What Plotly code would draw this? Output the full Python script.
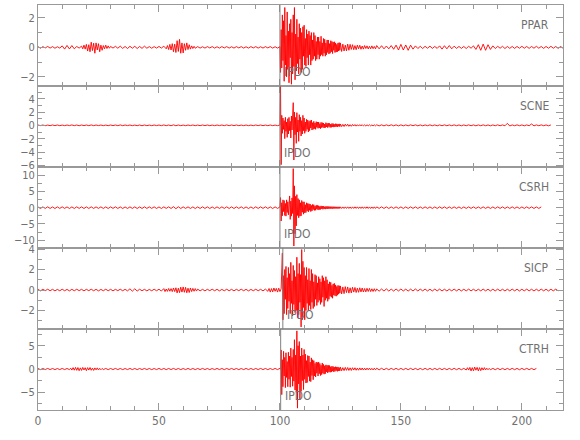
import plotly.graph_objects as go
from plotly.subplots import make_subplots

# ---------------- data ----------------
stations = ["PPAR", "SCNE", "CSRH", "SICP", "CTRH"]
pick_label = "IPDO"
pick_times = [100.0, 100.0, 100.0, 101.2, 100.3]

# y-axis ranges and ticks of each panel
y_ranges = [[-2.62, 2.87], [-6.25, 5.9], [-12.4, 12.5], [-3.8, 4.1], [-8.8, 8.6]]
y_dticks = [2, 2, 5, 2, 5]
y_minor = [1, 1, 2.5, 1, 2.5]
x_range = [0, 217]
x_dtick = 50
x_minor = 10

# Each trace is stored as segments: start time (s), sample step (s), amplitudes.

# ---- PPAR ----
ppar_t0 = [0, 18, 30, 53, 65, 100, 125, 140]
ppar_dt = [1, 0.5, 1, 0.5, 1, 0.25, 0.5, 1]
ppar_vals = [
    [.05, -.06, .05, -.04, .06, -.05, .05, -.06, .04, -.05, .10, -.12, .13, -.11, .12, -.10, .06, -.05],
    [.08, -.1, .15, -.12, .2, -.25, .18, -.3, .35, -.22, .28, -.4, .3, -.18, .25, -.3, .15, -.2,
     .12, -.1, .15, -.08, .1, -.06],
    [.06, -.05, .07, -.06, .08, -.07, .06, -.08, .07, -.06, .07, -.08, .06, -.07, .08, -.06, .05,
     -.06, .05, -.05, .06, -.05, .08],
    [-.1, .12, -.15, .2, -.18, .25, -.3, .22, -.35, .45, -.28, .54, -.4, .3, -.38, .25, -.2, .3,
     -.15, .18, -.12, .1, -.08, .07],
    [-.06, .05, -.05, .04, -.05, .05, -.04, .05, -.05, .04, -.05, .05, -.04, .05, -.05, .04, -.05,
     .05, -.04, .05, -.05, .04, -.05, .05, -.04, .05, -.05, .04, -.05, .05, -.04, .05, -.05, .04, -.05],
    [0.05, -1.7, 1.2, -1.4, 2.2, -0.9, 1.8, -2.3,
     2.7, -1.2, 0.8, -2.0, 2.4, -1.5, 1.1, -2.4,
     1.6, -0.7, 1.9, -2.5, 1.0, -1.8, 2.2, -1.3,
     2.7, -2.2, 0.9, -1.6, 1.9, -1.1, 0.7, -1.8,
     1.6, -0.8, 1.3, -1.7, 1.0, -1.5, 1.4, -0.6,
     1.5, -1.2, 0.6, -1.3, 1.2, -0.7, 0.9, -1.2,
     1.1, -0.5, 0.8, -1.2, 1.0, -0.9, 0.5, -0.8,
     1.0, -0.6, 0.8, -0.9, 0.4, -0.8, 0.7, -0.5,
     0.7, -0.8, 0.4, -0.6, 0.75, -0.5, 0.3, -0.6,
     0.6, -0.4, 0.55, -0.6, 0.3, -0.5, 0.5, -0.35,
     0.5, -0.45, 0.25, -0.4, 0.45, -0.3, 0.4, -0.42,
     0.35, -0.2, 0.38, -0.35, 0.3, -0.32, 0.2, -0.3,
     0.3, -0.25, 0.32, -0.2],
    [0.3, -0.28, 0.22, -0.25, 0.15, -0.24, 0.22, -0.2, 0.2, -0.14,
     0.18, -0.16, 0.12, -0.16, 0.15, -0.1, 0.14, -0.13, 0.09, -0.12,
     0.12, -0.08, 0.1, -0.11, 0.07, -0.1, 0.1, -0.09, 0.06, -0.1],
    [.12, -.10, .11, -.10, .09, -.10, .12, -.13, .15, -.18,
     .20, -.18, .16, -.20, .15, -.12, .10, -.08, .07, -.08,
     .07, -.06, .08, -.07, .06, -.07, .10, -.12, .11, -.10,
     .12, -.10, .08, -.07, .06, -.07, .06, -.08, .07, -.06,
     .10, -.14, .18, -.20, .22, -.20, .18, -.14, .10, -.08,
     .07, -.06, .07, -.08, .06, -.07, .06, -.07, .06, -.06,
     .07, -.06, .06, -.07, .06, -.06, .07, -.06, .06, -.07,
     .06, -.06, .07, -.06, .06, -.07, .06, -.06],
]

# ---- SCNE ----
scne_t0 = [0, 100, 125, 140]
scne_dt = [1, 0.25, 0.5, 1]
scne_vals = [
    [.05, -.04, .05, -.05, .04, -.05, .05, -.04, .05, -.05,
     .04, -.05, .05, -.04, .06, -.05, .05, -.06, .05, -.04,
     .05, -.05, .06, -.05, .05, -.04, .05, -.05, .04, -.05,
     .05, -.04, .05, -.05, .06, -.05, .05, -.04, .05, -.05,
     .04, -.05, .05, -.06, .05, -.05, .04, -.05, .05, -.04,
     .05, -.05, .06, -.05, .05, -.06, .07, -.06, .05, -.05,
     .04, -.05, .05, -.04, .05, -.05, .04, -.05, .05, -.04,
     .05, -.05, .04, -.05, .05, -.04, .05, -.05, .06, -.05,
     .05, -.04, .05, -.05, .04, -.05, .05, -.05, .04, -.05,
     .05, -.04, .05, -.05, .04, -.05, .05, -.05, .04, -.05],
    [0.05, 5.8, -5.9, 1.5, -1.2, 1.1, -0.6, 0.7,
     -2.0, 1.2, -0.9, 0.5, -1.8, 1.0, -1.3, 1.2,
     -0.8, 0.6, -1.9, 1.4, -0.7, 1.0, 3.4, -5.2,
     2.0, -1.4, 1.2, -2.7, 1.9, -1.0, 0.8, -2.4,
     1.6, -0.9, 1.2, -1.6, 0.7, -1.3, 1.5, -0.8,
     1.1, -1.2, 0.5, -0.9, 0.9, -0.6, 0.8, -1.0,
     0.6, -0.8, 0.7, -0.4, 0.8, -0.7, 0.4, -0.6,
     0.6, -0.5, 0.35, -0.6, 0.55, -0.3, 0.5, -0.45,
     0.5, -0.4, 0.25, -0.5, 0.45, -0.35, 0.4, -0.3,
     0.35, -0.4, 0.2, -0.35, 0.4, -0.25, 0.3, -0.35,
     0.33, -0.2, 0.3, -0.32, 0.18, -0.3, 0.28, -0.22,
     0.26, -0.27, 0.15, -0.25, 0.24, -0.2, 0.22, -0.24,
     0.2, -0.15, 0.22, -0.2],
    [0.2, -0.19, 0.14, -0.18, 0.17, -0.12, 0.16, -0.15, 0.1, -0.14,
     0.13, -0.1, 0.12, -0.12, 0.09, -0.11, 0.1, -0.08, 0.1, -0.09,
     0.07, -0.09, 0.08, -0.07, 0.08, -0.08, 0.06, -0.08, 0.07, -0.07],
    [.08, -.08, .07, -.08, .07, -.07, .08, -.07, .07, -.08,
     .07, -.07, .06, -.07, .07, -.06, .07, -.07, .06, -.07,
     .06, -.06, .07, -.06, .06, -.07, .06, -.06, .07, -.06,
     .06, -.06, .07, -.06, .06, -.07, .06, -.06, .07, -.06,
     .06, -.07, .06, -.06, .07, -.06, .06, -.07, .06, -.06,
     .07, -.06, .06, -.07, .30, -.10, .06, -.06, .07, -.06,
     .06, -.07, .06, -.06, .20, -.08, .06, -.06, .07, -.06,
     .06, -.07, .06],
]

# ---- CSRH ----
csrh_t0 = [0, 100, 125, 140]
csrh_dt = [1, 0.25, 0.5, 1]
csrh_vals = [
    [.22, -.25, .24, -.22, .25, -.24, .22, -.25, .24, -.23,
     .25, -.22, .24, -.25, .23, -.24, .25, -.22, .24, -.25,
     .23, -.24, .25, -.23, .24, -.22, .25, -.24, .23, -.25,
     .24, -.22, .25, -.24, .23, -.25, .22, -.24, .25, -.23,
     .24, -.25, .22, -.24, .25, -.23, .24, -.22, .25, -.24,
     .23, -.25, .24, -.22, .25, -.24, .3, -.32, .28, -.25,
     .24, -.22, .25, -.24, .23, -.25, .22, -.24, .25, -.23,
     .24, -.25, .22, -.24, .25, -.23, .24, -.22, .25, -.24,
     .23, -.25, .24, -.22, .25, -.24, .23, -.25, .22, -.24,
     .25, -.23, .24, -.22, .25, -.24, .23, -.25, .24, -.22],
    [0.2, 3.1, -4.1, 1.5, -2.5, 2.4, -1.2, 2.2,
     -2.4, 1.3, -2.6, 2.4, -1.5, 1.8, -2.2, 1.0,
     3.6, -3.6, 2.0, -2.6, 3.0, -1.8, 12.0, -11.8,
     6.7, -8.0, 3.5, -5.6, 4.0, -2.4, 2.8, -3.1,
     2.4, -2.6, 1.5, -2.5, 2.2, -1.4, 1.8, -2.0,
     1.8, -1.6, 0.9, -1.5, 1.5, -1.0, 1.3, -1.3,
     1.2, -0.8, 1.1, -1.2, 0.7, -1.0, 1.0, -0.6,
     0.9, -0.85, 0.5, -0.8, 0.75, -0.45, 0.7, -0.7,
     0.6, -0.6, 0.4, -0.55, 0.55, -0.35, 0.5, -0.5,
     0.45, -0.4, 0.3, -0.45, 0.4, -0.3, 0.4, -0.38,
     0.36, -0.35, 0.3, -0.33, 0.32, -0.28, 0.3, -0.3,
     0.3, -0.28, 0.27, -0.28, 0.26, -0.26, 0.25, -0.25,
     0.25, -0.24, 0.25, -0.24],
    [0.25, -0.24, 0.23, -0.25, 0.24, -0.23, 0.25, -0.24, 0.22, -0.25,
     0.24, -0.23, 0.25, -0.22, 0.24, -0.25, 0.23, -0.24, 0.25, -0.23,
     0.24, -0.22, 0.25, -0.24, 0.23, -0.25, 0.22, -0.24, 0.25, -0.23],
    [.23, -.22, .24, -.23, .22, -.24, .23, -.22, .24, -.22,
     .23, -.24, .22, -.23, .24, -.22, .23, -.24, .22, -.23,
     .24, -.22, .23, -.24, .22, -.23, .24, -.22, .23, -.24,
     .22, -.23, .24, -.22, .23, -.24, .22, -.23, .24, -.22,
     .23, -.24, .22, -.23, .24, -.22, .23, -.24, .22, -.23,
     .24, -.22, .23, -.24, .22, -.23, .24, -.22, .23, -.24,
     .22, -.23, .24, -.22, .23, -.24, .22, -.23, .22],
]

# ---- SICP ----
sicp_t0 = [0, 52, 66, 95, 101, 125, 140]
sicp_dt = [1, 0.5, 1, 0.5, 0.25, 0.5, 1]
sicp_vals = [
    [.07, -.08, .07, -.06, .08, -.07, .07, -.08, .06, -.07,
     .08, -.07, .06, -.08, .07, -.07, .08, -.06, .07, -.08,
     .07, -.06, .08, -.07, .07, -.08, .06, -.07, .08, -.07,
     .07, -.08, .07, -.06, .08, -.07, .07, -.08, .12, -.11,
     .12, -.10, .08, -.07, .07, -.08, .06, -.07, .08, -.07,
     .08, -.10],
    [.14, -.15, .1, -.13, .15, -.12, .14, -.15, .2, -.15, .22, -.28, .18, -.25,
     .28, -.2, .3, -.22, .26, -.27, .18, -.24, .2, -.15, .16, -.12, .14, -.1],
    [.09, -.08, .07, -.08, .07, -.06, .08, -.07, .07, -.08,
     .06, -.07, .08, -.07, .07, -.08, .07, -.06, .08, -.07,
     .07, -.08, .06, -.07, .08, -.07, .07, -.08, .09],
    [-.12, .15, -.2, .14, -.18, .2, -.12, .16, -.2, .18, -.15, .12],
    [3.6, -2.9, 1.4, -2.3, 2.0, -0.9, 2.3, -2.4,
     1.2, -1.8, 2.2, -1.1, 1.6, -2.3, 2.7, -1.3,
     0.9, -2.5, 2.4, -1.4, 1.9, -2.2, 1.3, -2.0,
     3.2, -2.7, 1.6, -2.4, 2.6, -1.2, 1.5, -3.6,
     3.95, -2.9, 2.8, -1.7, 2.2, -2.9, 1.4, -2.0,
     2.2, -1.3, 1.0, -2.0, 2.1, -1.5, 0.9, -1.9,
     2.0, -1.2, 1.6, -1.8, 0.8, -1.6, 1.5, -0.9,
     1.4, -1.5, 0.7, -1.2, 1.3, -1.0, 1.1, -1.4,
     0.8, -1.2, 1.4, -0.7, 1.2, -1.6, 0.9, -1.0,
     1.3, -0.8, 1.0, -1.1, 0.6, -0.9, 0.8, -0.6,
     0.75, -0.7, 0.45, -0.8, 0.6, -0.5, 0.65, -0.55,
     0.5, -0.6, 0.35, -0.5, 0.45, -0.4, 0.42, -0.3],
    [0.4, -0.38, 0.3, -0.35, 0.33, -0.25, 0.3, -0.3, 0.22, -0.28,
     0.27, -0.2, 0.25, -0.24, 0.18, -0.22, 0.22, -0.18, 0.2, -0.19,
     0.15, -0.18, 0.17, -0.14, 0.16, -0.15, 0.12, -0.14, 0.13, -0.12],
    [.10, -.11, .10, -.10, .11, -.10, .09, -.10, .10, -.09,
     .10, -.09, .09, -.10, .09, -.09, .10, -.09, .09, -.08,
     .09, -.09, .08, -.09, .09, -.08, .09, -.09, .08, -.09,
     .08, -.08, .09, -.08, .08, -.09, .08, -.08, .09, -.08,
     .08, -.09, .08, -.08, .09, -.08, .08, -.09, .08, -.08,
     .09, -.08, .08, -.09, .08, -.08, .09, -.08, .08, -.09,
     .08, -.08, .09, -.08, .08, -.09, .08, -.08, .09, -.08,
     .08, -.09, .08, -.08, .09, -.08],
]

# ---- CTRH ----
ctrh_t0 = [0, 13, 27, 100, 125, 140, 177, 187]
ctrh_dt = [1, 0.5, 1, 0.25, 0.5, 1, 0.5, 1]
ctrh_vals = [
    [.12, -.13, .12, -.11, .13, -.12, .12, -.13, .11, -.12, .13, -.12, .12],
    [-.13, .18, -.22, .3, -.25, .35, -.28, .32, -.36, .25, -.3, .34, -.2, .28,
     -.35, .3, -.22, .33, -.27, .2, -.3, .24, -.18, .25, -.2, .15, -.14, .12],
    [-.12, .12, -.13, .12, -.11, .13, -.12, .12, -.13, .11,
     -.12, .13, -.12, .12, -.13, .12, -.11, .13, -.12, .12,
     -.13, .11, -.12, .13, -.12, .12, -.13, .12, -.11, .13,
     -.12, .12, -.13, .11, -.12, .13, -.12, .12, -.13, .12,
     -.11, .13, -.12, .12, -.13, .11, -.12, .13, -.12, .12,
     -.13, .12, -.11, .13, -.12, .12, -.13, .11, -.12, .13,
     -.12, .12, -.13, .12, -.11, .13, -.12, .12, -.13, .11,
     -.12, .13, -.12],
    [0.15, -0.1, 4.1, -5.5, 2.0, -3.8, 3.8, -1.5,
     2.5, -4.0, 3.5, -1.8, 1.6, -3.8, 3.6, -2.2,
     2.8, -3.9, 4.5, -1.6, 2.5, -3.7, 4.2, -2.6,
     6.3, -4.5, 3.0, -5.0, 8.2, -8.4, 5.0, -3.2,
     5.9, -6.6, 2.8, -4.8, 4.5, -2.5, 3.0, -4.4,
     4.2, -2.2, 3.2, -3.0, 1.8, -2.9, 2.9, -1.6,
     2.8, -2.6, 1.5, -2.7, 2.4, -1.4, 2.0, -2.3,
     1.8, -1.5, 1.2, -1.7, 1.5, -0.9, 1.4, -1.5,
     1.5, -1.0, 1.2, -1.4, 0.8, -1.2, 1.3, -0.9,
     1.0, -1.1, 0.7, -1.0, 0.9, -0.6, 0.8, -0.85,
     0.8, -0.6, 0.75, -0.7, 0.5, -0.65, 0.6, -0.45,
     0.55, -0.6, 0.4, -0.5, 0.5, -0.35, 0.45, -0.5,
     0.45, -0.4, 0.3, -0.42],
    [0.4, -0.36, 0.3, -0.34, 0.35, -0.28, 0.32, -0.3, 0.26, -0.3,
     0.28, -0.22, 0.27, -0.26, 0.2, -0.25, 0.24, -0.2, 0.22, -0.22,
     0.18, -0.21, 0.2, -0.17, 0.2, -0.19, 0.15, -0.19, 0.18, -0.17],
    [.18, -.17, .16, -.16, .15, -.16, .15, -.14, .15, -.15,
     .14, -.15, .14, -.14, .15, -.14, .14, -.15, .14, -.14,
     .15, -.14, .14, -.15, .14, -.14, .15, -.14, .14, -.15,
     .14, -.14, .15, -.14, .14, -.15, .14],
    [-.2, .28, -.22, .35, -.4, .3, -.38, .42, -.25, .36, -.4, .3, -.35, .28, -.22,
     .3, -.2, .18, -.15, .14],
    [-.15, .14, -.14, .15, -.14, .14, -.15, .14, -.14, .15,
     -.14, .14, -.15, .14, -.14, .15, -.14, .14, -.15, .14],
]

seg_starts = [ppar_t0, scne_t0, csrh_t0, sicp_t0, ctrh_t0]
seg_steps = [ppar_dt, scne_dt, csrh_dt, sicp_dt, ctrh_dt]
seg_values = [ppar_vals, scne_vals, csrh_vals, sicp_vals, ctrh_vals]

# ---------------- figure ----------------
trace_color = "rgba(255,0,0,0.9)"
frame_color = "#999999"
text_color = "#707070"
font_family = "Liberation Sans Narrow, DejaVu Sans Condensed, Liberation Sans, sans-serif"

fig = make_subplots(rows=5, cols=1, shared_xaxes=True, vertical_spacing=0)

for i in range(5):
    row = i + 1
    t, y = [], []
    starts = seg_starts[i]
    for s, (t0, dt, vals) in enumerate(zip(starts, seg_steps[i], seg_values[i])):
        t_end = starts[s + 1] if s + 1 < len(starts) else 1e9
        for k, v in enumerate(vals):
            tk = t0 + k * dt
            if tk < t_end - 1e-9:
                t.append(tk)
                y.append(v)
    fig.add_trace(go.Scatter(x=t, y=y, mode="lines",
                             line=dict(color=trace_color, width=1.0),
                             hoverinfo="skip", showlegend=False),
                  row=row, col=1)

    sfx = "" if row == 1 else str(row)
    fig.add_shape(type="line", xref="x" + sfx, yref="y" + sfx + " domain",
                  x0=pick_times[i], x1=pick_times[i], y0=0, y1=1,
                  line=dict(color="#808080", width=1), layer="above")
    fig.add_annotation(xref="x" + sfx, yref="y" + sfx + " domain",
                       x=pick_times[i] + 0.8, y=0.17, xanchor="left", yanchor="middle",
                       text=pick_label, showarrow=False,
                       font=dict(family=font_family, size=12, color=text_color))
    fig.add_annotation(xref="x" + sfx + " domain", yref="y" + sfx + " domain",
                       x=0.977, y=0.75, xanchor="right", yanchor="middle",
                       text=stations[i], showarrow=False,
                       font=dict(family=font_family, size=12, color=text_color))

    fig.update_yaxes(row=row, col=1, range=y_ranges[i], dtick=y_dticks[i], tick0=0,
                     automargin=False,
                     showline=True, linecolor=frame_color, linewidth=1, mirror="ticks",
                     ticks="inside", ticklen=7, tickcolor=frame_color, tickwidth=1,
                     minor=dict(dtick=y_minor[i], tick0=0, ticks="inside", ticklen=4,
                                tickcolor=frame_color, tickwidth=1, showgrid=False),
                     showgrid=False, zeroline=False,
                     tickfont=dict(family=font_family, size=11, color=text_color))
    fig.update_xaxes(row=row, col=1, range=x_range, dtick=x_dtick, tick0=0,
                     automargin=False,
                     showline=True, linecolor=frame_color, linewidth=1, mirror="ticks",
                     ticks="inside", ticklen=7, tickcolor=frame_color, tickwidth=1,
                     minor=dict(dtick=x_minor, tick0=0, ticks="inside", ticklen=4,
                                tickcolor=frame_color, tickwidth=1, showgrid=False),
                     showgrid=False, zeroline=False,
                     tickfont=dict(family=font_family, size=12, color=text_color))

fig.update_layout(width=580, height=440,
                  margin=dict(l=38, r=17, t=5, b=30),
                  paper_bgcolor="white", plot_bgcolor="white",
                  showlegend=False)

fig.write_html("out.html",
               config={"displayModeBar": False},
               post_script="document.body.style.margin='0';document.body.style.overflow='hidden';")
